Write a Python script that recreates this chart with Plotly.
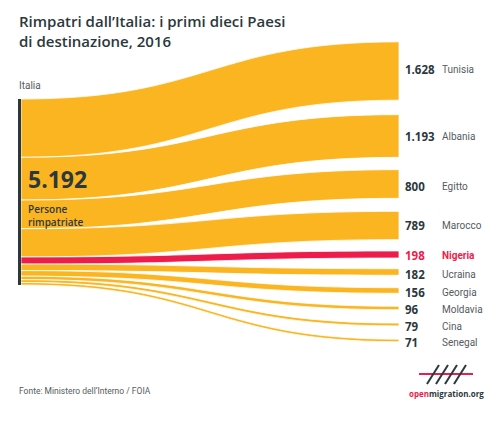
import plotly.graph_objects as go

W, H = 500, 426
OFF = 8  # page body margin: figure origin lands at (8, 8) in the window

# ---- data ----
source_label = "Italia"
total_label = "5.192"
countries = ["Tunisia", "Albania", "Egitto", "Marocco", "Nigeria",
             "Ucraina", "Georgia", "Moldavia", "Cina", "Senegal"]
values = [1628, 1193, 800, 789, 198, 182, 156, 96, 79, 71]
value_labels = ["1.628", "1.193", "800", "789", "198", "182", "156", "96", "79", "71"]
highlight = "Nigeria"

# ---- layout (window pixel positions of node centres) ----
left_node_y_px = 192
right_node_y_px = [71, 136, 184, 225.5, 254.5, 272, 290.5, 308, 324.5, 340.5]
label_y_px = [70, 136, 186, 226, 256, 274, 292, 309.5, 326, 342.5]
left_x_px = 19.5
right_x_px = 400.5

ORANGE = "#FBB521"
RED = "#EE1C4A"
DARK = "#2B383D"
GREY = "#555B5E"


def px(x):
    return (x - OFF) / W


def py(y):
    return 1 - (y - OFF) / H


n = len(countries)
node_x = [(left_x_px - OFF) / W] + [(right_x_px - OFF) / W] * n
node_y = [(left_node_y_px - OFF) / H] + [(y - OFF) / H for y in right_node_y_px]
node_colors = [DARK] + ["rgba(0,0,0,0)"] * n
link_colors = [RED if c == highlight else ORANGE for c in countries]

pad = (H - 186) / (n - 1)

fig = go.Figure(go.Sankey(
    domain=dict(x=[0, 1], y=[0, 1]),
    arrangement="fixed",
    node=dict(
        label=[""] * (n + 1),
        x=node_x, y=node_y,
        color=node_colors,
        thickness=3,
        pad=pad,
        line=dict(width=0),
    ),
    link=dict(
        source=[0] * n,
        target=list(range(1, n + 1)),
        value=values,
        color=link_colors,
        line=dict(color="white", width=0.8),
    ),
    hoverinfo="none",
))

ann = []


def add(x, y, text, font, xanchor="left", align="left"):
    ann.append(dict(x=px(x), y=py(y), xref="paper", yref="paper",
                    xanchor=xanchor, yanchor="middle", align=align,
                    showarrow=False, text=text, font=font))


add(17, 31, "Rimpatri dall’Italia: i primi dieci Paesi<br>di destinazione, 2016",
    dict(family="Open Sans", size=15, color=DARK, weight=600))
add(17, 85, source_label, dict(family="Roboto", size=10, color=GREY))
add(26, 179, "<b>" + total_label + "</b>",
    dict(family="Open Sans", size=23, color=DARK))
add(26, 215, "Persone<br>rimpatriate",
    dict(family="Open Sans", size=10, color=DARK, weight=600))
for c, vl, yc in zip(countries, value_labels, label_y_px):
    col = RED if c == highlight else DARK
    add(403, yc, "<b>" + vl + "</b>", dict(family="Open Sans", size=11.5, color=col))
    add(440, yc, ("<b>" + c + "</b>") if c == highlight else c,
        dict(family="Roboto", size=10, color=RED if c == highlight else GREY))
add(17, 391, "Fonte: Ministero dell’Interno / FOIA",
    dict(family="Roboto", size=8.5, color=GREY))
add(446, 393, "<span style='color:%s'>open</span>migration.org" % RED,
    dict(family="Open Sans", size=8, color=DARK, weight=700), xanchor="center")

shapes = [dict(type="line", xref="paper", yref="paper",
               x0=px(419), x1=px(473), y0=py(374), y1=py(374),
               line=dict(color=RED, width=2))]
for xb in [427, 436, 445, 454]:
    shapes.append(dict(type="line", xref="paper", yref="paper",
                       x0=px(xb), x1=px(xb + 12), y0=py(384), y1=py(365),
                       line=dict(color=DARK, width=2)))

fig.update_layout(
    width=W, height=H,
    margin=dict(l=0, r=0, t=0, b=0),
    paper_bgcolor="white",
    plot_bgcolor="white",
    annotations=ann,
    shapes=shapes,
    showlegend=False,
)

fig.write_html("out.html")
